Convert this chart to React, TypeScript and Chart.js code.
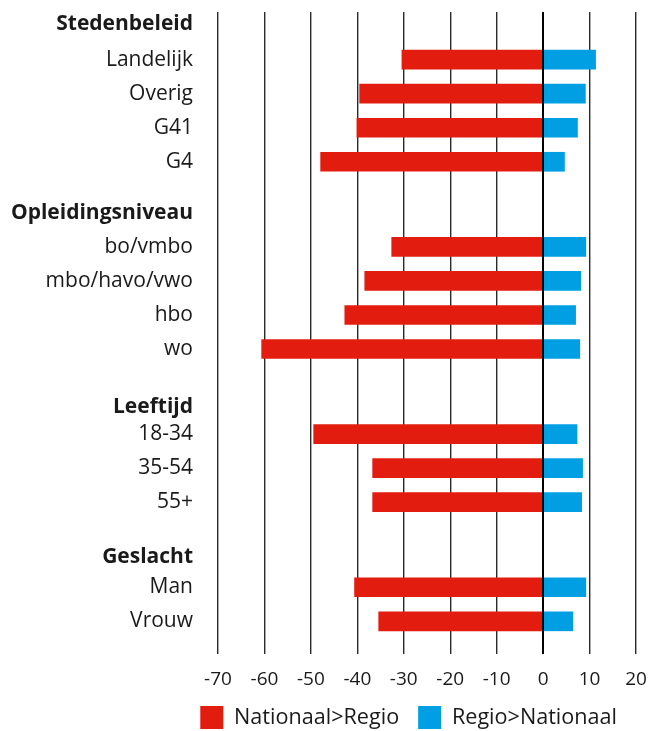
import React, { useEffect, useRef } from "react";
import { Chart, registerables } from "chart.js";

Chart.register(...registerables);

const groupTitles = ["Stedenbeleid", "Opleidingsniveau", "Leeftijd", "Geslacht"];
const groupCategories = [
  ["Landelijk", "Overig", "G41", "G4"],
  ["bo/vmbo", "mbo/havo/vwo", "hbo", "wo"],
  ["18-34", "35-54", "55+"],
  ["Man", "Vrouw"],
];
const nationaalNaarRegio = [-30.4, -39.5, -40.1, -47.9, -32.6, -38.4, -42.7, -60.6, -49.4, -36.7, -36.7, -40.6, -35.4];
const regioNaarNationaal = [11.3, 9.1, 7.4, 4.6, 9.2, 8.1, 7.0, 7.9, 7.3, 8.5, 8.3, 9.2, 6.4];
const xTickValues = [-70, -60, -50, -40, -30, -20, -10, 0, 10, 20];
const seriesNames = ["Nationaal>Regio", "Regio>Nationaal"];

// layout of rows (in row units)
const headerOffsets = [1.05, 1.0, 0.8, 0.9];
const groupGap = 2.5;

const FONT = "'Open Sans', 'Noto Sans', sans-serif";
const RED = "#e31c10";
const BLUE = "#009fe3";
const TEXT = "#1a1a1a";

function buildRows() {
  const barPos: number[] = [];
  const tickPos: number[] = [];
  const tickLabels: string[] = [];
  const tickBold: boolean[] = [];
  let p = 1;
  groupCategories.forEach((cats, g) => {
    if (g > 0) p += groupGap - 1;
    tickPos.push(p - headerOffsets[g]);
    tickLabels.push(groupTitles[g]);
    tickBold.push(true);
    cats.forEach((c) => {
      barPos.push(p);
      tickPos.push(p);
      tickLabels.push(c);
      tickBold.push(false);
      p += 1;
    });
  });
  return { barPos, tickPos, tickLabels, tickBold };
}

const zeroLine = {
  id: "zeroLine",
  afterDatasetsDraw(chart: any) {
    const { ctx, chartArea, scales } = chart;
    const x = Math.round(scales.x.getPixelForValue(0));
    ctx.save();
    ctx.strokeStyle = "#000";
    ctx.lineWidth = 2;
    ctx.beginPath();
    ctx.moveTo(x, chartArea.top);
    ctx.lineTo(x, chartArea.bottom);
    ctx.stroke();
    ctx.restore();
  },
};

export default function App() {
  const ref = useRef<HTMLCanvasElement | null>(null);
  useEffect(() => {
    if (!ref.current) return;
    const { barPos, tickPos, tickLabels, tickBold } = buildRows();
    const chart = new Chart(ref.current, {
      type: "bar",
      data: {
        datasets: [
          {
            label: seriesNames[0],
            data: nationaalNaarRegio.map((v, i) => ({ x: v, y: barPos[i] })),
            backgroundColor: RED,
            borderWidth: 0,
            barThickness: 19,
          },
          {
            label: seriesNames[1],
            data: regioNaarNationaal.map((v, i) => ({ x: v, y: barPos[i] })),
            backgroundColor: BLUE,
            borderWidth: 0,
            barThickness: 19,
          },
        ],
      },
      options: {
        indexAxis: "y",
        animation: false,
        responsive: false,
        layout: { padding: { top: 12, right: 15, bottom: -8, left: 0 } },
        plugins: {
          tooltip: { enabled: false },
          legend: {
            position: "bottom",
            align: "end",
            labels: {
              boxWidth: 23,
              boxHeight: 23,
              padding: 19,
              color: TEXT,
              font: { family: FONT, size: 21.6 },
            },
          },
        },
        scales: {
          x: {
            type: "linear",
            stacked: true,
            min: -70,
            max: 20,
            afterBuildTicks: (scale: any) => {
              scale.ticks = xTickValues.map((v) => ({ value: v }));
            },
            afterFit: (scale: any) => {
              scale.height = 33;
              scale.paddingLeft = 0;
              scale.paddingRight = 0;
            },
            ticks: {
              color: TEXT,
              font: { family: FONT, size: 19 },
              padding: 14,
            },
            grid: {
              color: "#2a2a2a",
              lineWidth: 1.4,
              drawTicks: false,
            },
            border: { display: false },
          },
          y: {
            type: "linear",
            stacked: true,
            reverse: true,
            offset: false,
            min: -0.4,
            max: 18.46,
            afterBuildTicks: (scale: any) => {
              scale.ticks = tickPos.map((v) => ({ value: v }));
            },
            afterFit: (scale: any) => {
              scale.width = 218;
              scale.paddingTop = 0;
              scale.paddingBottom = 0;
            },
            ticks: {
              autoSkip: false,
              padding: 25,
              color: TEXT,
              callback: (_v: any, i: number) => tickLabels[i],
              font: (ctx: any) => ({
                family: FONT,
                size: 21,
                weight: tickBold[ctx.index] ? "bold" : "normal",
              }),
            },
            grid: { display: false, drawTicks: false, offset: false },
            border: { display: false },
          },
        },
      },
      plugins: [zeroLine],
    } as any);
    return () => chart.destroy();
  }, []);
  return (
    <div style={{ position: "fixed", left: 0, top: 0, width: 651, height: 731, background: "#fff" }}>
      <canvas ref={ref} width={651} height={731} />
    </div>
  );
}
